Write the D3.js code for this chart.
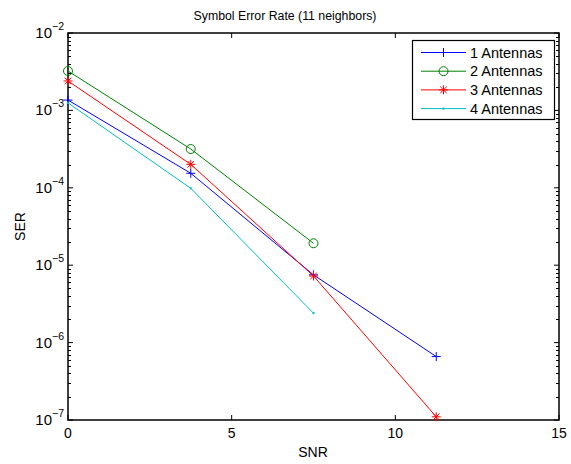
<!DOCTYPE html>
<html>
<head>
<meta charset="utf-8">
<script src="https://cdn.jsdelivr.net/npm/d3@7"></script>
<style>
  html, body { margin: 0; padding: 0; background: #fff; }
  svg { display: block; }
  text { font-family: "Liberation Sans", Arial, Helvetica, sans-serif; fill: #000; }
</style>
</head>
<body>
<svg id="chart" width="571" height="464"></svg>
<script>
// Symbol error rate vs SNR for 1-4 receive antennas
const snr = [0, 3.75, 7.5, 11.25];
const ser1 = [1.36e-3, 1.54e-4, 7.5e-6, 6.6e-7];
const ser2 = [3.23e-3, 3.17e-4, 1.92e-5];
const ser3 = [2.40e-3, 2.01e-4, 7.25e-6, 1.10e-7];
const ser4 = [1.25e-3, 9.85e-5, 2.40e-6];
const seriesNames = ["1 Antennas", "2 Antennas", "3 Antennas", "4 Antennas"];
const seriesColors = ["#0000ff", "#008000", "#ff0000", "#00bfbf"];
const seriesMarkers = ["plus", "circle", "star", "dot"];
const xTicks = [0, 5, 10, 15];
const yExponents = [-2, -3, -4, -5, -6, -7];

const series = [ser1, ser2, ser3, ser4].map((vals, i) => ({
  name: seriesNames[i], color: seriesColors[i], marker: seriesMarkers[i],
  points: vals.map((v, j) => [snr[j], v])
}));

const svg = d3.select("#chart");
const L = 68, R = 559, T = 33, B = 420;

const x = d3.scaleLinear().domain([0, 15]).range([L, R]);
const y = d3.scaleLog().domain([1e-7, 1e-2]).range([B, T]);

// minor log ticks
const minor = [];
for (let e = -7; e < -2; e++) for (let m = 2; m <= 9; m++) minor.push(m * Math.pow(10, e));

const axes = svg.append("g").attr("stroke", "#000").attr("stroke-width", 1);
// left & right major/minor ticks (pointing inward)
[[L, 1], [R, -1]].forEach(([px, dir]) => {
  axes.selectAll(null).data(yExponents).enter().append("line")
    .attr("x1", px).attr("x2", px + dir * 5)
    .attr("y1", d => y(Math.pow(10, d))).attr("y2", d => y(Math.pow(10, d)));
  axes.selectAll(null).data(minor).enter().append("line")
    .attr("x1", px).attr("x2", px + dir * 3)
    .attr("y1", d => Math.round(y(d)) + 0.5).attr("y2", d => Math.round(y(d)) + 0.5);
});
// bottom & top ticks
[[B, -1], [T, 1]].forEach(([py, dir]) => {
  axes.selectAll(null).data(xTicks).enter().append("line")
    .attr("x1", d => x(d)).attr("x2", d => x(d))
    .attr("y1", py).attr("y2", py + dir * 5);
});

// frame
svg.append("rect").attr("x", L).attr("y", T).attr("width", R - L).attr("height", B - T)
  .attr("fill", "none").attr("stroke", "#000").attr("stroke-width", 1.5);

// x tick labels
svg.append("g").selectAll("text").data(xTicks).enter().append("text")
  .attr("x", d => x(d)).attr("y", B + 18).attr("text-anchor", "middle")
  .attr("font-size", 14).text(d => d);

// y tick labels as 10^e
const yl = svg.append("g").selectAll("text").data(yExponents).enter().append("text")
  .attr("x", L - 4).attr("y", d => y(Math.pow(10, d)) + 5)
  .attr("text-anchor", "end").attr("font-size", 15);
yl.append("tspan").text("10");
yl.append("tspan").attr("dy", -8).attr("font-size", 10.5).text(d => "\u2212" + Math.abs(d));

// lines
const line = d3.line().x(d => x(d[0])).y(d => y(d[1]));
const plot = svg.append("g");
series.forEach(s => {
  plot.append("path").attr("d", line(s.points)).attr("fill", "none")
    .attr("stroke", s.color).attr("stroke-width", 1);
});

function drawMarker(g, type, cx, cy, color) {
  const sz = 4.5;
  if (type === "plus") {
    g.append("path").attr("d", `M${cx - sz},${cy}H${cx + sz}M${cx},${cy - sz}V${cy + sz}`)
      .attr("stroke", color).attr("stroke-width", 1).attr("fill", "none");
  } else if (type === "circle") {
    g.append("circle").attr("cx", cx).attr("cy", cy).attr("r", 4.5)
      .attr("stroke", color).attr("stroke-width", 1).attr("fill", "none");
  } else if (type === "star") {
    const d = sz * 0.72;
    g.append("path").attr("d",
      `M${cx - sz},${cy}H${cx + sz}M${cx},${cy - sz}V${cy + sz}` +
      `M${cx - d},${cy - d}L${cx + d},${cy + d}M${cx - d},${cy + d}L${cx + d},${cy - d}`)
      .attr("stroke", color).attr("stroke-width", 1).attr("fill", "none");
  } else {
    g.append("rect").attr("x", cx - 1).attr("y", cy - 1).attr("width", 2).attr("height", 2)
      .attr("fill", color);
  }
}

series.forEach(s => {
  s.points.forEach(p => drawMarker(plot, s.marker, x(p[0]), y(p[1]), s.color));
});

// title and axis labels
svg.append("text").attr("x", 285).attr("y", 20).attr("text-anchor", "middle")
  .attr("font-size", 12.3).text("Symbol Error Rate (11 neighbors)");
svg.append("text").attr("x", 313).attr("y", 457).attr("text-anchor", "middle")
  .attr("font-size", 14).text("SNR");
svg.append("text").attr("transform", `translate(25,${(T + B) / 2}) rotate(-90)`)
  .attr("text-anchor", "middle").attr("font-size", 14).text("SER");

// legend
const lg = svg.append("g");
lg.append("rect").attr("x", 412.5).attr("y", 40.5).attr("width", 142).attr("height", 79)
  .attr("fill", "#fff").attr("stroke", "#000").attr("stroke-width", 1.2);
series.forEach((s, i) => {
  const ly = 52.5 + i * 18.7;
  lg.append("line").attr("x1", 421).attr("x2", 466).attr("y1", ly).attr("y2", ly)
    .attr("stroke", s.color).attr("stroke-width", 1);
  drawMarker(lg, s.marker, 443.5, ly, s.color);
  lg.append("text").attr("x", 470).attr("y", ly + 5).attr("font-size", 14.5).text(s.name);
});
</script>
</body>
</html>
